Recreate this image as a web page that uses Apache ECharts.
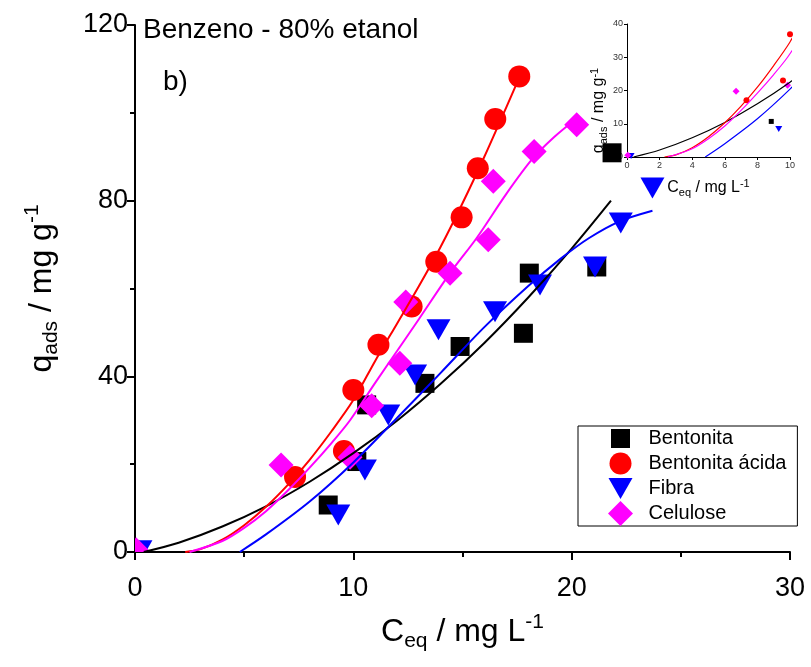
<!DOCTYPE html>
<html><head><meta charset="utf-8">
<script src="https://cdn.jsdelivr.net/npm/echarts@6/dist/echarts.min.js"></script>
<style>html,body{margin:0;padding:0;background:#fff}#c{width:811px;height:667px}</style>
</head><body><div id="c"></div>
<script>
const FONT = 'Liberation Sans, Arial, Helvetica, sans-serif';
const seriesNames = ['Bentonita', 'Bentonita ácida', 'Fibra', 'Celulose'];
const colors = ['#000000', '#ff0000', '#0000ff', '#ff00ff'];

// Measured points (Ceq, qads)
const bentX = [8.85, 10.16, 10.61, 13.28, 14.89, 17.79, 18.06, 21.15, 21.85];
const bentY = [10.7, 20.6, 33.5, 38.4, 46.8, 49.8, 63.5, 64.9, 90.9];
const acidX = [7.33, 9.57, 10.0, 11.15, 12.67, 13.8, 14.96, 15.7, 16.5, 17.6];
const acidY = [17.1, 23.0, 36.9, 47.2, 55.9, 66.1, 76.2, 87.4, 98.6, 108.3];
const fibX = [0.25, 9.31, 10.53, 11.6, 12.83, 13.9, 16.49, 18.55, 21.07, 22.25, 23.7];
const fibY = [0.3, 8.4, 18.7, 31.2, 40.3, 50.6, 54.7, 60.8, 64.9, 74.9, 82.9];
const celX = [0.05, 6.69, 9.85, 10.84, 12.13, 12.4, 14.43, 16.18, 16.41, 18.28, 20.23];
const celY = [0.5, 19.8, 21.6, 33.3, 43.0, 56.9, 63.5, 71.1, 84.4, 91.2, 97.3];

// Fitted curves
const bentFitX = [0.4, 2, 4, 6, 8, 10, 12, 14, 16, 18, 20, 21.8];
const bentFitY = [0, 2.1, 5.8, 10.4, 16.0, 22.5, 29.9, 38.3, 47.6, 57.9, 69.1, 80.0];
const acidFitX = [2.3, 3, 4, 5, 6, 7, 8, 9, 10, 11, 12, 13, 14, 15, 16, 17, 17.6];
const acidFitY = [0, 0.65, 2.8, 6.1, 10.3, 15.3, 21.0, 27.5, 34.6, 43.5, 52.0, 60.5, 69.5, 79.4, 90.0, 101.2, 108];
const fibFitX = [4.8, 6, 8, 10, 12, 14, 16, 18, 19.5, 20.8, 22.2, 23.7];
const fibFitY = [0, 4, 11.5, 20.4, 30.5, 40.8, 51.2, 60.5, 66.8, 71.5, 75.3, 77.7];
const celFitX = [2.5, 4, 5, 6, 7, 8, 9, 9.85, 11, 12.2, 13, 14.43, 15.65, 17, 18.2, 19.2, 20.3];
const celFitY = [0, 2.5, 5.5, 9.3, 14, 19.2, 24.8, 30, 38.5, 47.2, 53, 63.5, 71.5, 81.5, 89.5, 94.5, 99];

// Axis ticks
const mainXTicks = {min: 0, max: 30, interval: 10};
const mainYTicks = {min: 0, max: 120, interval: 40};
const insetXTicks = {min: 0, max: 10, interval: 2};
const insetYTicks = {min: 0, max: 40, interval: 10};

const zip = (xs, ys) => xs.map((x, i) => [x, ys[i]]);
const pts = [zip(bentX, bentY), zip(acidX, acidY), zip(fibX, fibY), zip(celX, celY)];
const fits = [zip(bentFitX, bentFitY), zip(acidFitX, acidFitY), zip(fibFitX, fibFitY), zip(celFitX, celFitY)];

const triPath = 'path://M0,0L24,0L12,21Z';
const mainSymbols = [['rect', 19], ['circle', 22], [triPath, [24, 21]], ['diamond', 25]];
const insetSymbols = [['rect', 5], ['circle', 6], [triPath, [7, 6]], ['diamond', 7]];
const legendIcons = [
  'path://M0,0M25,25M3,3H22V22H3Z',
  'path://M0,0M25,25M23.5,12.5A11,11,0,1,1,1.5,12.5A11,11,0,1,1,23.5,12.5Z',
  'path://M0,0M25,25M0.5,2H24.5L12.5,23Z',
  'path://M12.5,0L25,12.5L12.5,25L0,12.5Z'
];

const richBig = {
  m: {fontSize: 32, fontFamily: FONT, color: '#000', lineHeight: 40, verticalAlign: 'middle'},
  s: {fontSize: 21, fontFamily: FONT, color: '#000', lineHeight: 21, verticalAlign: 'bottom'},
  p: {fontSize: 21, fontFamily: FONT, color: '#000', lineHeight: 21, verticalAlign: 'top'}
};
const richSmall = {
  m: {fontSize: 16, fontFamily: FONT, color: '#000', lineHeight: 20, verticalAlign: 'middle'},
  s: {fontSize: 11, fontFamily: FONT, color: '#000', lineHeight: 11, verticalAlign: 'bottom'},
  p: {fontSize: 11, fontFamily: FONT, color: '#000', lineHeight: 11, verticalAlign: 'top'}
};

function axis(grid, ticks, big, name, gap, rotate, namePad) {
  const w = big ? 2 : 1;
  const o = {
    gridIndex: grid, type: 'value', min: ticks.min, max: ticks.max, interval: ticks.interval,
    axisLine: {show: true, onZero: false, lineStyle: {color: '#000', width: w}},
    axisTick: {show: true, inside: false, length: big ? 8 : 3, lineStyle: {color: '#000', width: w}},
    minorTick: {show: big, splitNumber: 2, length: 5, lineStyle: {color: '#000', width: w}},
    splitLine: {show: false}, minorSplitLine: {show: false},
    axisLabel: {fontSize: big ? 27 : 9, color: big ? '#000' : '#333', fontFamily: FONT, margin: big ? (rotate ? 7 : 23) : 4},
    name: name, nameLocation: 'middle', nameGap: gap,
    nameTextStyle: {rich: big ? richBig : richSmall, padding: namePad || 0}
  };
  if (rotate) o.nameRotate = 90;
  return o;
}

// custom renderer for markers that must be clipped by the plot frame
function markerShape(kind, p, color) {
  if (kind === 3) {
    const h = 12.5;
    return {type: 'polygon', shape: {points: [[p[0], p[1] - h], [p[0] + h, p[1]], [p[0], p[1] + h], [p[0] - h, p[1]]]}, style: {fill: color}};
  }
  if (kind === 2) {
    return {type: 'polygon', shape: {points: [[p[0] - 12, p[1] - 10.5], [p[0] + 12, p[1] - 10.5], [p[0], p[1] + 10.5]]}, style: {fill: color}};
  }
  if (kind === 1) return {type: 'circle', shape: {cx: p[0], cy: p[1], r: 11}, style: {fill: color}};
  return {type: 'rect', shape: {x: p[0] - 9.5, y: p[1] - 9.5, width: 19, height: 19}, style: {fill: color}};
}

const series = [];
// main scatter
pts.forEach((d, i) => {
  const inner = d.filter(p => p[0] >= 1);
  const edge = d.filter(p => p[0] < 1);
  series.push({
    type: 'scatter', name: seriesNames[i], xAxisIndex: 0, yAxisIndex: 0, data: inner,
    symbol: mainSymbols[i][0], symbolSize: mainSymbols[i][1], z: 2,
    itemStyle: {color: colors[i], opacity: 1}, emphasis: {disabled: true}, silent: true
  });
  if (edge.length) series.push({
    type: 'custom', name: seriesNames[i] + ' edge', xAxisIndex: 0, yAxisIndex: 0, data: edge,
    clip: true, z: 2, silent: true,
    renderItem: (params, api) => markerShape(i, api.coord([api.value(0), api.value(1)]), colors[i])
  });
});
// main fitted lines
fits.forEach((d, i) => series.push({
  type: 'line', name: seriesNames[i] + ' fit', xAxisIndex: 0, yAxisIndex: 0, data: d,
  showSymbol: false, symbol: 'none', smooth: 0.3, clip: true, z: 3,
  lineStyle: {color: colors[i], width: 2}, itemStyle: {color: colors[i]}, silent: true
}));
// inset scatter
pts.forEach((d, i) => series.push({
  type: 'scatter', name: seriesNames[i], xAxisIndex: 1, yAxisIndex: 1, data: d,
  symbol: insetSymbols[i][0], symbolSize: insetSymbols[i][1], z: 2, clip: true,
  itemStyle: {color: colors[i], opacity: 1}, emphasis: {disabled: true}, silent: true
}));
// inset lines
fits.forEach((d, i) => series.push({
  type: 'line', name: seriesNames[i] + ' fit', xAxisIndex: 1, yAxisIndex: 1, data: d,
  showSymbol: false, symbol: 'none', smooth: 0.3, clip: true, z: 3,
  lineStyle: {color: colors[i], width: 1.2}, itemStyle: {color: colors[i]}, silent: true
}));

const chart = echarts.init(document.getElementById('c'), null, {renderer: 'canvas'});
chart.setOption({
  animation: false,
  backgroundColor: '#fff',
  grid: [
    {left: 135, top: 25, right: 21, bottom: 115, containLabel: false, outerBoundsMode: 'none'},
    {left: 627, top: 24, right: 21, bottom: 510, containLabel: false, outerBoundsMode: 'none'}
  ],
  xAxis: [
    axis(0, mainXTicks, true, '{m|C}{s|eq}{m| / mg L}{p|-1}', 60, false),
    axis(1, insetXTicks, false, '{m|C}{s|eq}{m| / mg L}{p|-1}', 21, false)
  ],
  yAxis: [
    axis(0, mainYTicks, true, '{m|q}{s|ads}{m| / mg g}{p|-1}', 73, true),
    axis(1, insetYTicks, false, '{m|q}{s|ads}{m| / mg g}{p|-1}', 14, true, [0, 40, 0, 0])
  ],
  legend: {
    show: true, orient: 'vertical', left: 578, top: 426,
    padding: [0, 11, 0, 30], itemGap: 0, itemWidth: 46, itemHeight: 25,
    borderColor: '#000', borderWidth: 1, borderRadius: 0, backgroundColor: '#fff',
    selectedMode: false,
    textStyle: {fontSize: 20, fontFamily: FONT, color: '#000'},
    data: seriesNames.map((n, i) => ({name: n, icon: legendIcons[i]}))
  },
  graphic: [
    {type: 'text', left: 143, top: 16, style: {text: 'Benzeno - 80% etanol', fontSize: 28, fontFamily: FONT, fill: '#000'}},
    {type: 'text', left: 163, top: 68, style: {text: 'b)', fontSize: 28, fontFamily: FONT, fill: '#000'}}
  ],
  series: series
});
</script>
</body></html>
